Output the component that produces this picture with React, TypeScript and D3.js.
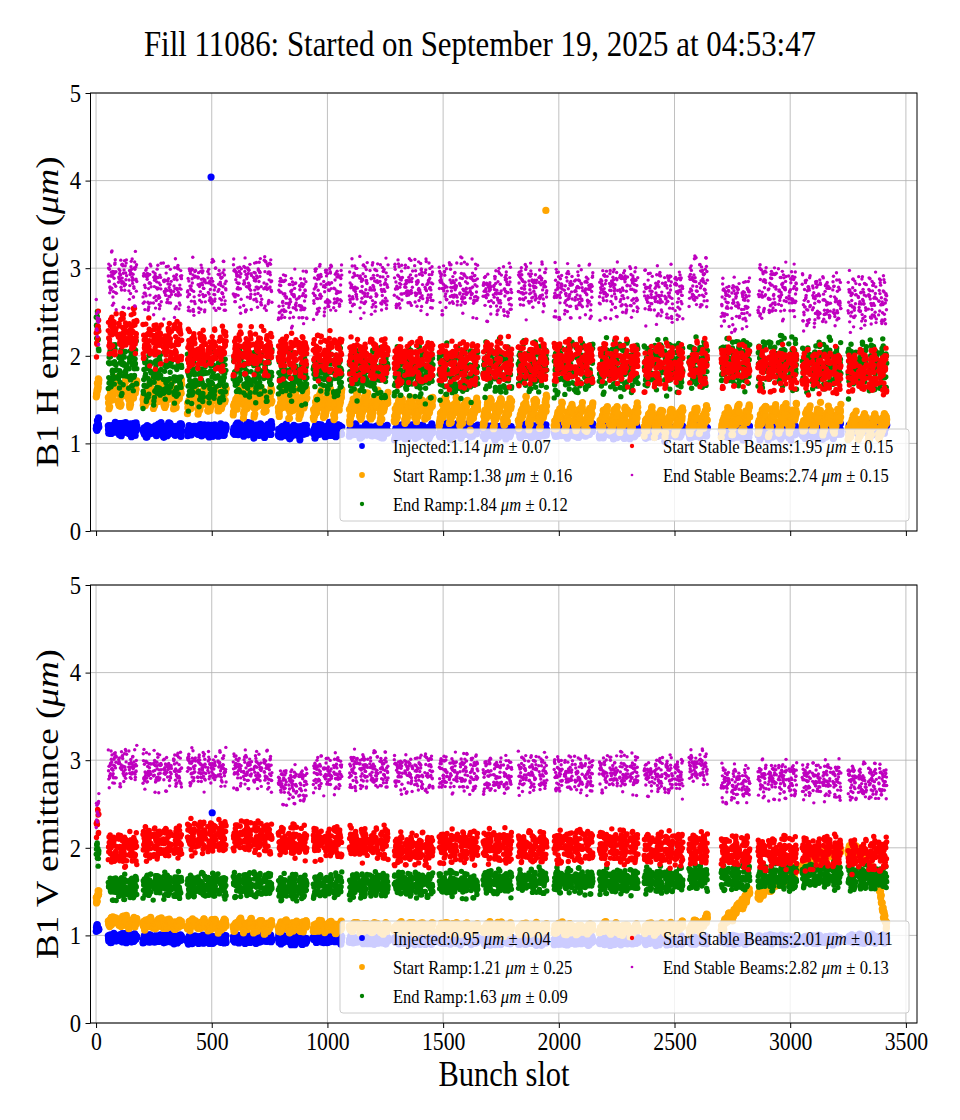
import * as d3 from "d3";
import React, { useRef, useEffect } from "react";

// filling scheme: groups of 36b trains (first group is a 12b train)
const groupStart = [1, 53, 203, 395, 593, 788, 939, 1095, 1289, 1483, 1673, 1825, 1980, 2175, 2369, 2563, 2702, 2861, 3052, 3250];
const groupTrains = [1, 3, 4, 4, 4, 3, 3, 4, 4, 4, 3, 3, 4, 4, 4, 2, 3, 4, 4, 4];
const groupTrainLen = [12, 36, 36, 36, 36, 36, 36, 36, 36, 36, 36, 36, 36, 36, 36, 36, 36, 36, 36, 36];
const trainSpacing = 44;

const seriesNames = ["Injected", "Start Ramp", "End Ramp", "Start Stable Beams", "End Stable Beams"];

// B1 H, mean level per group
const injectedH = [1.21, 1.16, 1.15, 1.15, 1.16, 1.14, 1.15, 1.14, 1.13, 1.14, 1.13, 1.13, 1.14, 1.13, 1.13, 1.14, 1.13, 1.13, 1.14, 1.17];
const startRampH = [1.62, 1.58, 1.55, 1.5, 1.48, 1.46, 1.44, 1.42, 1.39, 1.36, 1.36, 1.35, 1.3, 1.28, 1.26, 1.26, 1.27, 1.29, 1.27, 1.2];
const endRampH = [2.25, 1.86, 1.74, 1.72, 1.78, 1.76, 1.8, 1.8, 1.8, 1.82, 1.86, 1.86, 1.86, 1.87, 1.88, 1.88, 1.9, 1.92, 1.88, 1.88];
const startStableH = [2.28, 2.25, 2.15, 2.05, 2.05, 2.0, 2.0, 1.95, 1.93, 1.9, 1.92, 1.92, 1.93, 1.9, 1.88, 1.9, 1.9, 1.86, 1.83, 1.82];
const endStableH = [2.38, 2.87, 2.78, 2.78, 2.82, 2.65, 2.75, 2.78, 2.8, 2.78, 2.72, 2.78, 2.72, 2.75, 2.7, 2.82, 2.6, 2.73, 2.62, 2.62];

// B1 V, mean level per group (start ramp per train)
const injectedV = [1.08, 0.97, 0.96, 0.95, 0.96, 0.95, 0.96, 0.95, 0.95, 0.95, 0.94, 0.94, 0.94, 0.94, 0.94, 0.94, 0.95, 0.95, 0.95, 0.96];
const startRampV = [
  1.45,
  1.16, 1.15, 1.14,
  1.14, 1.13, 1.13, 1.12,
  1.13, 1.12, 1.12, 1.11,
  1.12, 1.11, 1.11, 1.1,
  1.11, 1.1, 1.1,
  1.1, 1.1, 1.09,
  1.1, 1.09, 1.09, 1.08,
  1.09, 1.08, 1.08, 1.08,
  1.09, 1.08, 1.08, 1.07,
  1.08, 1.08, 1.07,
  1.08, 1.07, 1.07,
  1.08, 1.07, 1.07, 1.07,
  1.08, 1.07, 1.07, 1.07,
  1.08, 1.08, 1.08, 1.09,
  1.1, 1.14,
  1.15, 1.28, 1.42,
  1.5, 1.57, 1.64, 1.72,
  1.8, 1.88, 1.93, 1.96,
  1.98, 1.93, 1.72, 1.33,
];
const startRampVDrift = [
  0.03,
  0.03, 0.03, 0.03,
  0.03, 0.03, 0.03, 0.03,
  0.03, 0.03, 0.03, 0.03,
  0.03, 0.03, 0.03, 0.03,
  0.03, 0.03, 0.03,
  0.03, 0.03, 0.03,
  0.03, 0.03, 0.03, 0.03,
  0.03, 0.03, 0.03, 0.03,
  0.03, 0.03, 0.03, 0.03,
  0.03, 0.03, 0.03,
  0.03, 0.03, 0.03,
  0.03, 0.03, 0.03, 0.03,
  0.03, 0.03, 0.03, 0.03,
  0.03, 0.03, 0.03, 0.03,
  0.04, 0.06,
  0.08, 0.08, 0.08,
  0.05, 0.05, 0.05, 0.05,
  0.04, 0.04, 0.03, 0.02,
  0.02, -0.04, -0.13, -0.25,
];
const endRampV = [1.95, 1.55, 1.57, 1.57, 1.58, 1.55, 1.56, 1.57, 1.58, 1.58, 1.6, 1.62, 1.62, 1.62, 1.63, 1.66, 1.66, 1.66, 1.68, 1.65];
const startStableV = [2.3, 1.98, 2.05, 2.12, 2.12, 2.06, 2.06, 2.05, 1.98, 2.02, 2.02, 2.0, 2.02, 2.01, 1.98, 1.98, 1.95, 1.93, 1.95, 1.92];
const endStableV = [2.4, 2.92, 2.88, 2.9, 2.88, 2.72, 2.85, 2.88, 2.85, 2.85, 2.82, 2.85, 2.83, 2.85, 2.82, 2.92, 2.72, 2.78, 2.77, 2.75];

// bunch-to-bunch spread (half width) and within-train drift
const spreadH = [0.065, 0.085, 0.26, 0.23, 0.28];
const spreadV = [0.045, 0.05, 0.13, 0.17, 0.2];
const driftH = [0.02, 0.11, 0.03, 0.03, 0.0];
const driftV = [0.0, 0.0, 0.0, 0.0, 0.0];
const driftShape = [-1, -0.8, -0.6, -0.4, -0.2, 0, 0.15, 0.3, 0.45, 0.6, 0.75, 0.9];
const scatter = [
  0.12, -0.58, 0.83, -0.21, 0.44, -0.92, 0.05, 0.67, -0.37, 0.29,
  -0.74, 0.91, -0.08, 0.52, -0.45, 0.18, -0.99, 0.36, 0.74, -0.27,
  0.61, -0.63, 0.02, 0.88, -0.15, -0.81, 0.47, 0.23, -0.52, 0.95,
  -0.33, 0.09, -0.69, 0.56, -0.04, 0.39, -0.87, 0.71, -0.18, 0.33, -0.48,
];

// isolated points
const outliersH = [
  { series: 0, slot: 497, value: 4.04 },
  { series: 1, slot: 1944, value: 3.66 },
];
const outliersV = [{ series: 0, slot: 502, value: 2.4 }];

const statMeanH = ["1.14", "1.38", "1.84", "1.95", "2.74"];
const statStdH = ["0.07", "0.16", "0.12", "0.15", "0.15"];
const statMeanV = ["0.95", "1.21", "1.63", "2.01", "2.82"];
const statStdV = ["0.04", "0.25", "0.09", "0.11", "0.13"];

const xTicks = [0, 500, 1000, 1500, 2000, 2500, 3000, 3500];
const yTicks = [0, 1, 2, 3, 4, 5];

const colors = ["#0000ff", "#ffa500", "#008000", "#ff0000", "#bf00bf"];
const radius = [3.6, 3.6, 2.7, 2.7, 1.7];
const font = "'Liberation Serif', 'DejaVu Serif', serif";
const squeeze = 0.87; // text in the figure is horizontally narrow

export default function App() {
  const ref = useRef<SVGSVGElement>(null);

  useEffect(() => {
    const svg = d3.select(ref.current);
    svg.selectAll("*").remove();

    // bunches
    const bunches: any[] = [];
    let trainIdx = 0;
    groupStart.forEach((start, g) => {
      for (let t = 0; t < groupTrains[g]; t++) {
        const len = groupTrainLen[g];
        for (let b = 0; b < len; b++) {
          bunches.push({ slot: start + t * trainSpacing + b, group: g, train: trainIdx, pos: b / len });
        }
        trainIdx++;
      }
    });

    const panels = [
      {
        top: 93, bottom: 531, label: "H",
        levels: [injectedH, startRampH, endRampH, startStableH, endStableH],
        spread: spreadH, drift: driftH, trainDrift: null as number[] | null, outliers: outliersH,
        mean: statMeanH, std: statStdH, tickLabels: false,
      },
      {
        top: 585, bottom: 1023, label: "V",
        levels: [injectedV, startRampV, endRampV, startStableV, endStableV],
        spread: spreadV, drift: driftV, trainDrift: startRampVDrift, outliers: outliersV,
        mean: statMeanV, std: statStdV, tickLabels: true,
      },
    ];

    const x = d3.scaleLinear().domain([-24, 3548]).range([90.5, 917]);

    panels.forEach((panel, p) => {
      const y = d3.scaleLinear().domain([0, 5]).range([panel.bottom, panel.top]);
      const g = svg.append("g");

      // grid
      g.append("g")
        .selectAll("line")
        .data(xTicks)
        .join("line")
        .attr("x1", (d) => x(d))
        .attr("x2", (d) => x(d))
        .attr("y1", panel.top)
        .attr("y2", panel.bottom)
        .attr("stroke", "#b0b0b0")
        .attr("stroke-width", 0.8);
      g.append("g")
        .selectAll("line")
        .data(yTicks)
        .join("line")
        .attr("x1", x.range()[0])
        .attr("x2", x.range()[1])
        .attr("y1", (d) => y(d))
        .attr("y2", (d) => y(d))
        .attr("stroke", "#b0b0b0")
        .attr("stroke-width", 0.8);

      // points
      seriesNames.forEach((_, s) => {
        const lv = panel.levels[s];
        const perTrain = lv.length > groupStart.length;
        const pts = bunches.map((bn, k) => {
          const base = perTrain ? lv[bn.train] : lv[bn.group];
          const a = scatter[(k * 7 + s * 13 + p * 5) % 41];
          const b = scatter[(k * 11 + s * 3 + p * 17 + 5) % 37];
          const noise = (a + 0.6 * b) / 1.2;
          const amp = perTrain && panel.trainDrift ? panel.trainDrift[bn.train] : panel.drift[s];
          const drift = driftShape[Math.floor(bn.pos * driftShape.length)] * amp;
          return [bn.slot, base + noise * panel.spread[s] + drift];
        });
        panel.outliers
          .filter((o) => o.series === s)
          .forEach((o) => pts.push([o.slot, o.value]));
        g.append("g")
          .attr("fill", colors[s])
          .selectAll("circle")
          .data(pts)
          .join("circle")
          .attr("cx", (d: any) => x(d[0]))
          .attr("cy", (d: any) => y(d[1]))
          .attr("r", radius[s]);
      });

      // legend
      const lg = g.append("g").attr("transform", `translate(340, ${panel.top + 336})`);
      lg.append("rect")
        .attr("width", 569)
        .attr("height", 92)
        .attr("rx", 3)
        .attr("fill", "white")
        .attr("fill-opacity", 0.8)
        .attr("stroke", "#cccccc")
        .attr("stroke-width", 1);
      seriesNames.forEach((name, s) => {
        const col = s < 3 ? 0 : 1;
        const row = s < 3 ? s : s - 3;
        const ly = 17 + row * 29;
        const mx = col === 0 ? 22 : 292;
        lg.append("circle")
          .attr("cx", mx)
          .attr("cy", ly)
          .attr("r", radius[s] * 0.8)
          .attr("fill", colors[s]);
        const t = lg
          .append("text")
          .attr("transform", `translate(${mx + 31},${ly}) scale(${squeeze},1)`)
          .attr("dy", "0.35em")
          .attr("font-family", font)
          .attr("font-size", 19)
          .attr("fill", "black");
        t.append("tspan").text(`${name}:${panel.mean[s]} `);
        t.append("tspan").attr("font-style", "italic").text("μm");
        t.append("tspan").attr("dx", 5).text("±");
        t.append("tspan").attr("dx", 5).text(panel.std[s]);
      });

      // axes
      const yAxis = g
        .append("g")
        .attr("transform", `translate(${x.range()[0]},0)`)
        .call(d3.axisLeft(y).tickValues(yTicks).tickSize(5).tickPadding(4.5).tickFormat(d3.format("d")));
      yAxis.select(".domain").remove();
      yAxis
        .selectAll("text")
        .attr("font-family", font)
        .attr("font-size", 26)
        .attr("x", -9.5 / squeeze)
        .attr("transform", `scale(${squeeze},1)`);

      const xAxis = g
        .append("g")
        .attr("transform", `translate(0,${panel.bottom})`)
        .call(
          d3
            .axisBottom(x)
            .tickValues(xTicks)
            .tickSize(5)
            .tickPadding(4)
            .tickFormat(panel.tickLabels ? d3.format("d") : () => "")
        );
      xAxis.select(".domain").remove();
      xAxis
        .selectAll("text")
        .attr("font-family", font)
        .attr("font-size", 25)
        .attr("transform", `scale(${squeeze},1)`);

      g.append("rect")
        .attr("x", x.range()[0])
        .attr("y", panel.top)
        .attr("width", x.range()[1] - x.range()[0])
        .attr("height", panel.bottom - panel.top)
        .attr("fill", "none")
        .attr("stroke", "black")
        .attr("stroke-width", 1);

      // y label
      const yl = g
        .append("text")
        .attr(
          "transform",
          `translate(58, ${(panel.top + panel.bottom) / 2}) scale(${squeeze},1) rotate(-90)`
        )
        .attr("text-anchor", "middle")
        .attr("font-family", font)
        .attr("font-size", 37);
      yl.append("tspan").text(`B1 ${panel.label} emittance (`);
      yl.append("tspan").attr("font-style", "italic").text("μm");
      yl.append("tspan").text(")");
    });

    svg
      .append("text")
      .attr("transform", `translate(504,1086) scale(${squeeze},1)`)
      .attr("text-anchor", "middle")
      .attr("font-family", font)
      .attr("font-size", 35)
      .text("Bunch slot");

    svg
      .append("text")
      .attr("transform", `translate(480,56) scale(${squeeze},1)`)
      .attr("text-anchor", "middle")
      .attr("font-family", font)
      .attr("font-size", 35.5)
      .text("Fill 11086: Started on September 19, 2025 at 04:53:47");
  }, []);

  return (
    <svg
      ref={ref}
      width={960}
      height={1120}
      viewBox="0 0 960 1120"
      style={{ position: "absolute", left: 0, top: 0, background: "white" }}
    />
  );
}
